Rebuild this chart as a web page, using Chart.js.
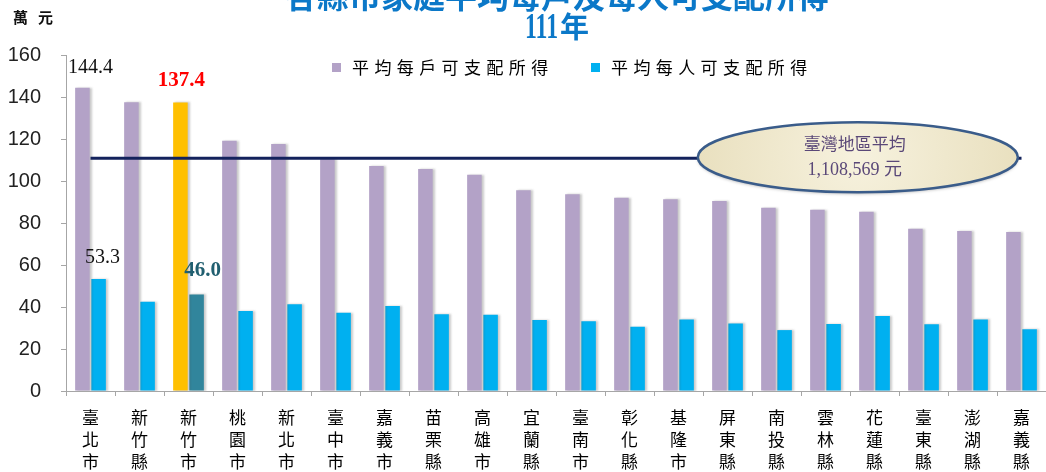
<!DOCTYPE html>
<html lang="zh-Hant">
<head>
<meta charset="UTF-8">
<title>各縣市家庭平均每戶及每人可支配所得 111年</title>
<script src="https://cdn.jsdelivr.net/npm/chart.js"></script>
<style>
    html, body { margin: 0; padding: 0; background: #fff; }
    .wrap { position: relative; width: 1046px; height: 472px; overflow: hidden; }
</style>
</head>
<body>
<div class="wrap"><canvas id="incomeChart" width="1046" height="472"></canvas></div>
<script>
// values in 萬元
const counties = ['臺北市', '新竹縣', '新竹市', '桃園市', '新北市', '臺中市', '嘉義市', '苗栗縣', '高雄市', '宜蘭縣',
                  '臺南市', '彰化縣', '基隆市', '屏東縣', '南投縣', '雲林縣', '花蓮縣', '臺東縣', '澎湖縣', '嘉義縣'];
const perHousehold = [144.4, 137.5, 137.4, 119.2, 117.6, 110.4, 107.1, 105.7, 103.0, 95.6,
                      93.7, 92.0, 91.3, 90.5, 87.3, 86.3, 85.4, 77.3, 76.2, 75.7];
const perPerson = [53.3, 42.5, 46.0, 38.1, 41.3, 37.3, 40.5, 36.5, 36.3, 33.8,
                   33.2, 30.6, 34.1, 32.2, 29.0, 31.9, 35.7, 31.8, 34.1, 29.4];
const yTicks = [0, 20, 40, 60, 80, 100, 120, 140, 160];
const taiwanAvg = 1108569; // 元
const highlightIndex = 2;  // 新竹市

const CJK = '"Noto Sans CJK TC"';
const NUM = '"Liberation Serif", "Noto Sans CJK TC"';

// which bars get a value printed above them
const callouts = [
    { ds: 0, i: 0, color: '#111', font: '20px ' + NUM, dx: 8, dy: -20 },
    { ds: 0, i: 2, color: '#FF0000', font: 'bold 21px ' + NUM, dx: 1, dy: -22 },
    { ds: 1, i: 0, color: '#111', font: '20px ' + NUM, dx: 4, dy: -21 },
    { ds: 1, i: 2, color: '#215F70', font: 'bold 21px ' + NUM, dx: 6, dy: -24 }
];

function spacedText(c, str, x, y, pitch) {
    for (let k = 0; k < str.length; k++) c.fillText(str[k], x + k * pitch, y);
}

const decor = {
    id: 'decor',
    beforeDatasetsDraw(chart) {
        const c = chart.ctx;
        c.save();
        c.shadowColor = 'rgba(80,80,80,0.3)';
        c.shadowOffsetX = 2;
        c.shadowBlur = 2;
    },
    afterDatasetsDraw(chart) {
        const c = chart.ctx;
        c.restore();
        const xs = chart.scales.x, ys = chart.scales.y;

        // 臺灣地區平均 line
        const yy = ys.getPixelForValue(taiwanAvg / 10000);
        c.save();
        c.strokeStyle = '#13225C';
        c.lineWidth = 3;
        c.beginPath();
        c.moveTo(xs.getPixelForValue(0), yy);
        c.lineTo(xs.getPixelForValue(counties.length - 1), yy);
        c.stroke();

        // ellipse callout
        const cx = xs.getPixelForValue(15.66), cy = yy - 1;
        const g = c.createRadialGradient(cx, cy, 5, cx, cy, 160);
        g.addColorStop(0, '#F6F1DD');
        g.addColorStop(1, '#E9E0BF');
        c.shadowColor = 'rgba(0,0,0,0.25)';
        c.shadowOffsetY = 2;
        c.shadowBlur = 3;
        c.beginPath();
        c.ellipse(cx, cy, 160, 35, 0, 0, Math.PI * 2);
        c.fillStyle = g;
        c.fill();
        c.shadowColor = 'transparent';
        c.lineWidth = 2.5;
        c.strokeStyle = '#3A5C8A';
        c.stroke();
        c.fillStyle = '#5A4878';
        c.textAlign = 'center';
        c.textBaseline = 'middle';
        c.font = '17px ' + CJK;
        c.fillText('臺灣地區平均', cx - 3, cy - 14);
        c.font = '18px ' + NUM;
        c.fillText(taiwanAvg.toLocaleString('en-US') + ' 元', cx - 3, cy + 13);

        // value labels
        callouts.forEach(o => {
            const bar = chart.getDatasetMeta(o.ds).data[o.i];
            const v = chart.data.datasets[o.ds].data[o.i];
            c.font = o.font;
            c.fillStyle = o.color;
            c.fillText(v.toFixed(1), bar.x + o.dx, bar.y + o.dy);
        });
        c.restore();
    },
    afterDraw(chart) {
        const c = chart.ctx;
        c.save();
        // title (first line runs off the top)
        c.fillStyle = '#0B78C8';
        c.textAlign = 'center';
        c.textBaseline = 'alphabetic';
        c.font = 'bold 32px ' + CJK;
        c.fillText('各縣市家庭平均每戶及每人可支配所得', 557, 8);
        c.font = 'bold 35px "Liberation Serif"';
        const w1 = c.measureText('111').width * 0.68;
        c.font = 'bold 29px ' + CJK;
        const w2 = c.measureText('年').width;
        const sx = 557 - (w1 + w2 + 2) / 2;
        c.textAlign = 'left';
        c.fillText('年', sx + w1 + 2, 38);
        c.save();
        c.translate(sx, 38);
        c.scale(0.68, 1);
        c.font = 'bold 35px "Liberation Serif"';
        c.fillText('111', 0, 0);
        c.restore();

        // unit
        c.fillStyle = '#111';
        c.textBaseline = 'middle';
        c.font = 'bold 15px ' + CJK;
        spacedText(c, '萬元', 13, 17, 25);

        // legend
        const items = [
            { x: 332, color: '#B3A2C7' },
            { x: 591, color: '#00B0F0' }
        ];
        c.font = '17px ' + CJK;
        items.forEach((it, k) => {
            c.fillStyle = it.color;
            c.fillRect(it.x, 63, 9, 9);
            c.fillStyle = '#000';
            spacedText(c, chart.data.datasets[k].label, it.x + 20, 68, 22.4);
        });
        c.restore();
    }
};

new Chart(document.getElementById('incomeChart').getContext('2d'), {
    type: 'bar',
    data: {
        labels: counties.map(n => n.split('')),
        datasets: [
            {
                label: '平均每戶可支配所得',
                data: perHousehold,
                backgroundColor: ctx => ctx.dataIndex === highlightIndex ? '#FFC000' : '#B3A2C7'
            },
            {
                label: '平均每人可支配所得',
                data: perPerson,
                backgroundColor: ctx => ctx.dataIndex === highlightIndex ? '#31859C' : '#00B0F0'
            }
        ]
    },
    options: {
        responsive: false,
        animation: false,
        layout: { padding: { top: 55, left: 0, right: 0, bottom: 0 } },
        datasets: { bar: { categoryPercentage: 0.66, barPercentage: 0.9 } },
        plugins: { legend: { display: false }, tooltip: { enabled: false } },
        scales: {
            x: {
                grid: { drawOnChartArea: false, tickLength: 5, color: '#A6A6A6' },
                border: { color: '#A6A6A6', width: 1 },
                ticks: {
                    color: '#000',
                    font: { family: CJK, size: 17, lineHeight: '22px' },
                    padding: 11,
                    maxRotation: 0,
                    autoSkip: false
                },
                afterFit: s => { s.height = 81; }
            },
            y: {
                min: 0,
                max: 160,
                afterBuildTicks: s => { s.ticks = yTicks.map(v => ({ value: v })); },
                grid: { drawOnChartArea: false, tickLength: 5, color: '#A6A6A6' },
                border: { color: '#A6A6A6', width: 1 },
                ticks: {
                    color: '#222',
                    font: { family: '"Liberation Sans Narrow", "Liberation Sans"', size: 20 },
                    padding: 20
                },
                afterFit: s => { s.width = 66; }
            }
        }
    },
    plugins: [decor]
});
</script>
</body>
</html>
